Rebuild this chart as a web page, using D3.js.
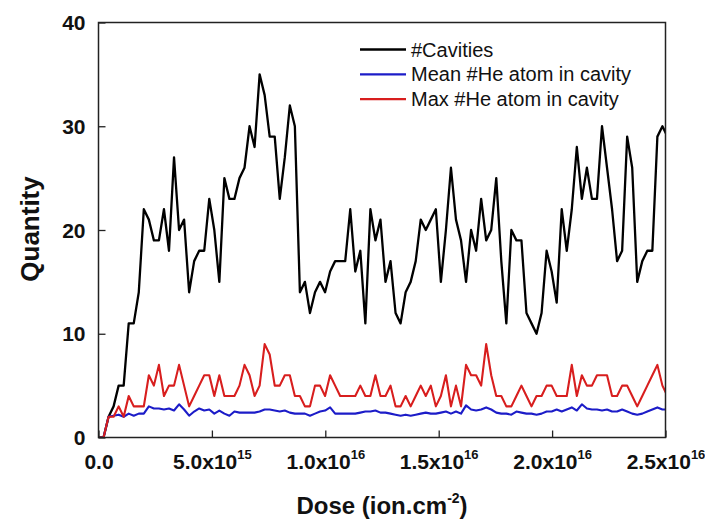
<!DOCTYPE html>
<html>
<head>
<meta charset="utf-8">
<script src="https://cdn.jsdelivr.net/npm/d3@7/dist/d3.min.js"></script>
<style>
  body { margin: 0; background: #fff; }
  text { font-family: "Liberation Sans", Arial, sans-serif; fill: #111; }
</style>
</head>
<body>
<svg id="chart" width="705" height="520"></svg>
<script>
// dose grid: one sample every doseStep ions/cm2
const doseStep = 2.22e14;

const cavities = [0, 0, 2, 3, 5, 5, 11, 11, 14, 22,
  21, 19, 19, 22, 18, 27, 20, 21, 14, 17,
  18, 18, 23, 20, 15, 25, 23, 23, 25, 26,
  30, 28, 35, 33, 29, 29, 23, 27, 32, 30,
  14, 15, 12, 14, 15, 14, 16, 17, 17, 17,
  22, 16, 18, 11, 22, 19, 21, 15, 17, 12,
  11, 14, 15, 17, 21, 20, 21, 22, 15, 20,
  26, 21, 19, 15, 20, 18, 23, 19, 20, 25,
  17, 11, 20, 19, 19, 12, 11, 10, 12, 18,
  16, 13, 22, 18, 22, 28, 23, 26, 23, 23,
  30, 26, 22, 17, 18, 29, 26, 15, 17, 18,
  18, 29, 30, 29];

const meanHe = [0, 0, 2.0, 2.1, 2.2, 2.0, 2.3, 2.1, 2.3, 2.3,
  3.0, 2.8, 2.8, 2.7, 2.8, 2.6, 3.2, 2.7, 2.1, 2.5,
  2.8, 2.6, 2.7, 2.3, 2.6, 2.3, 2.1, 2.5, 2.4, 2.4,
  2.4, 2.4, 2.5, 2.7, 2.7, 2.6, 2.5, 2.6, 2.4, 2.3,
  2.3, 2.3, 2.1, 2.3, 2.5, 2.6, 2.9, 2.3, 2.3, 2.3,
  2.3, 2.3, 2.4, 2.5, 2.5, 2.6, 2.4, 2.4, 2.3, 2.2,
  2.1, 2.2, 2.1, 2.2, 2.3, 2.4, 2.3, 2.3, 2.4, 2.5,
  2.3, 2.5, 2.3, 3.1, 2.7, 2.6, 2.7, 2.9, 2.7, 2.4,
  2.3, 2.3, 2.2, 2.5, 2.4, 2.3, 2.3, 2.2, 2.3, 2.5,
  2.5, 2.7, 2.5, 2.7, 2.9, 2.6, 3.2, 2.8, 2.7, 2.7,
  2.6, 2.7, 2.5, 2.5, 2.7, 2.5, 2.3, 2.2, 2.3, 2.5,
  2.7, 2.9, 2.7, 2.7];

const maxHe = [0, 0, 2, 2, 3, 2, 4, 3, 3, 3,
  6, 5, 7, 4, 5, 5, 7, 5, 3, 4,
  5, 6, 6, 4, 6, 4, 4, 4, 5, 7,
  6, 4, 5, 9, 8, 5, 5, 6, 6, 4,
  4, 3, 3, 5, 5, 4, 6, 5, 4, 4,
  4, 4, 5, 4, 4, 6, 4, 4, 5, 3,
  3, 4, 3, 4, 5, 4, 5, 3, 4, 6,
  3, 5, 3, 7, 6, 6, 5, 9, 6, 4,
  4, 3, 3, 4, 5, 4, 3, 4, 4, 5,
  5, 4, 4, 4, 7, 4, 6, 5, 5, 6,
  6, 6, 4, 4, 5, 5, 4, 3, 4, 5,
  6, 7, 5, 4];

const seriesNames = ["#Cavities", "Mean #He atom in cavity", "Max #He atom in cavity"];
const seriesColors = ["#000000", "#1c1cc8", "#d81e1e"];

const yTicks = [0, 10, 20, 30, 40];
const xTicks = [0, 5e15, 1e16, 1.5e16, 2e16, 2.5e16];
const xTickMain = ["0.0", "5.0x10", "1.0x10", "1.5x10", "2.0x10", "2.5x10"];
const xTickExp = ["", "15", "16", "16", "16", "16"];

const box = { left: 98.5, right: 665.5, top: 22.5, bottom: 437.5 };

const svg = d3.select("#chart");

const x = d3.scaleLinear().domain([0, 2.5e16]).range([box.left, box.right]);
const y = d3.scaleLinear().domain([0, 40]).range([box.bottom, box.top]);

svg.append("defs").append("clipPath").attr("id", "plotClip")
  .append("rect")
  .attr("x", box.left).attr("y", box.top - 5)
  .attr("width", box.right - box.left).attr("height", box.bottom - box.top + 5);

// lines
const line = d3.line()
  .x((d, i) => x(i * doseStep))
  .y(d => y(d));

const plot = svg.append("g").attr("clip-path", "url(#plotClip)");
[cavities, meanHe, maxHe].forEach((vals, i) => {
  plot.append("path")
    .datum(vals)
    .attr("d", line)
    .attr("fill", "none")
    .attr("stroke", seriesColors[i])
    .attr("stroke-width", i === 0 ? 2.3 : 2.1)
    .attr("stroke-linejoin", "round");
});

// frame
svg.append("rect")
  .attr("x", box.left).attr("y", box.top)
  .attr("width", box.right - box.left).attr("height", box.bottom - box.top)
  .attr("fill", "none")
  .attr("stroke", "#222")
  .attr("stroke-width", 1.5);

// x axis
const gx = svg.append("g")
  .attr("transform", `translate(0,${box.bottom})`)
  .attr("color", "#222")
  .call(d3.axisBottom(x).tickValues(xTicks).tickSizeInner(-7).tickSizeOuter(0).tickFormat(""));
gx.select(".domain").remove();
gx.selectAll(".tick line").attr("stroke-width", 1.3);
gx.selectAll(".tick text").each(function(d, i) {
  const t = d3.select(this)
    .attr("y", 31.5).attr("dy", 0)
    .attr("font-size", 21).attr("font-weight", "bold")
    .attr("text-anchor", "middle");
  t.append("tspan").text(xTickMain[i]);
  if (xTickExp[i]) {
    t.append("tspan").attr("dy", -10).attr("font-size", 13).text(xTickExp[i]);
  }
});

// y axis
const gy = svg.append("g")
  .attr("transform", `translate(${box.left},0)`)
  .attr("color", "#222")
  .call(d3.axisLeft(y).tickValues(yTicks).tickSizeInner(-7).tickSizeOuter(0).tickPadding(13).tickFormat(d3.format("d")));
gy.select(".domain").remove();
gy.selectAll(".tick line").attr("stroke-width", 1.3);
gy.selectAll(".tick text")
  .attr("font-size", 21).attr("font-weight", "bold")
  .attr("dy", "0.34em");

// axis titles
svg.append("text")
  .attr("transform", "translate(39,229) rotate(-90)")
  .attr("text-anchor", "middle")
  .attr("font-size", 26).attr("font-weight", "bold")
  .text("Quantity");

const xt = svg.append("text")
  .attr("x", 382).attr("y", 514)
  .attr("text-anchor", "middle")
  .attr("font-size", 24).attr("font-weight", "bold");
xt.append("tspan").text("Dose (ion.cm");
xt.append("tspan").attr("dy", -11).attr("font-size", 14).text("-2");
xt.append("tspan").attr("dy", 11).text(")");

// legend
const legend = svg.append("g");
seriesNames.forEach((name, i) => {
  const ly = 49.5 + i * 24.8;
  legend.append("line")
    .attr("x1", 360).attr("x2", 406)
    .attr("y1", ly).attr("y2", ly)
    .attr("stroke", seriesColors[i])
    .attr("stroke-width", 2.3);
  legend.append("text")
    .attr("x", 411).attr("y", ly)
    .attr("dy", "0.35em")
    .attr("font-size", 20)
    .text(name);
});
</script>
</body>
</html>
